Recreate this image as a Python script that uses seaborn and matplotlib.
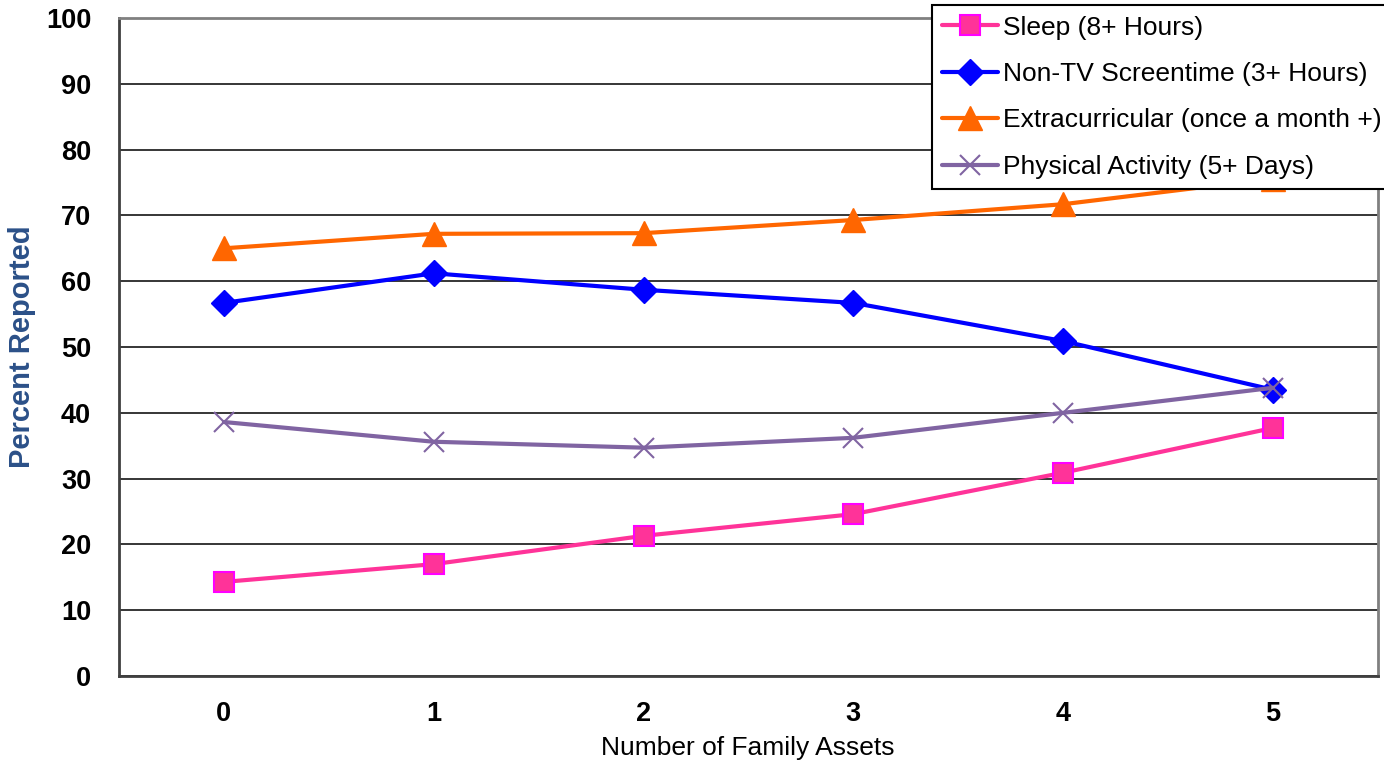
import pandas as pd
import seaborn as sns
import matplotlib.pyplot as plt

# values
assets = [0, 1, 2, 3, 4, 5]
sleep = [14.3, 17.0, 21.3, 24.6, 30.9, 37.7]
screentime = [56.7, 61.2, 58.7, 56.7, 50.9, 43.5]
extracurricular = [65.0, 67.2, 67.3, 69.3, 71.7, 75.6]
physical = [38.6, 35.6, 34.7, 36.2, 40.0, 43.8]

series_names = ["Sleep (8+ Hours)", "Non-TV Screentime (3+ Hours)",
                "Extracurricular (once a month +)", "Physical Activity (5+ Days)"]
series_values = [sleep, screentime, extracurricular, physical]

styles = {
    "Sleep (8+ Hours)": dict(color="#FF3399", marker="s", mfc="#FF3399", mec="#FF00FF", ms=14, mew=1.5),
    "Non-TV Screentime (3+ Hours)": dict(color="#0000FF", marker="D", mfc="#0000FF", mec="#0000FF", ms=13, mew=1),
    "Extracurricular (once a month +)": dict(color="#FF6600", marker="^", mfc="#FF6600", mec="#FF6600", ms=17, mew=1),
    "Physical Activity (5+ Days)": dict(color="#8064A2", marker="x", mfc="#8064A2", mec="#8064A2", ms=15, mew=1.5),
}

df = pd.concat([pd.DataFrame({"assets": assets, "pct": vals, "series": name})
                for name, vals in zip(series_names, series_values)])

sns.set_style("white")
plt.rcParams["font.family"] = ["Liberation Sans", "DejaVu Sans"]
plt.rcParams["text.color"] = "black"
plt.rcParams["axes.labelcolor"] = "black"
plt.rcParams["xtick.color"] = "black"
plt.rcParams["ytick.color"] = "black"

fig = plt.figure(figsize=(13.84, 7.64), dpi=100)
ax = fig.add_axes([119 / 1384, 1 - 676 / 764, (1378 - 119) / 1384, (676 - 18) / 764])

for name in series_names:
    sub = df[df["series"] == name]
    sns.lineplot(data=sub, x="assets", y="pct", ax=ax, label=name, lw=3, zorder=3,
                 **styles[name])

ax.set_xlim(-0.5, 5.5)
ax.set_ylim(0, 100)
ax.set_xticks(assets)
ax.set_yticks(range(0, 101, 10))
ax.yaxis.grid(True, color="black", lw=1.1)
ax.set_axisbelow(True)
ax.tick_params(axis="both", length=0, labelsize=19.5)
ax.tick_params(axis="y", pad=20)
ax.tick_params(axis="x", pad=18)
for lab in ax.get_xticklabels() + ax.get_yticklabels():
    lab.set_fontweight("bold")

ax.set_xlabel("Number of Family Assets", fontsize=19)
ax.set_ylabel("Percent Reported", fontsize=21, fontweight="bold", color="#2B5088")
ax.xaxis.set_label_coords((748 - 119) / (1378 - 119), -(748 - 676) / (676 - 18), transform=ax.transAxes)
ax.yaxis.set_label_coords(-(119 - 22) / (1378 - 119), (676 - 347) / (676 - 18), transform=ax.transAxes)
ax.xaxis.label.set_va("center")
ax.yaxis.label.set_va("center")

ax.spines["left"].set_color("#404040")
ax.spines["bottom"].set_color("#404040")
ax.spines["top"].set_color("#808080")
ax.spines["right"].set_color("#808080")
for s in ax.spines.values():
    s.set_linewidth(2)

leg = ax.legend(loc="upper right", bbox_to_anchor=(1392 / 1384, 1 - 5 / 764),
                bbox_transform=fig.transFigure, fontsize=19, frameon=True,
                fancybox=False, framealpha=1, borderaxespad=0, handlelength=2.1,
                handletextpad=0.2, labelspacing=0.85, borderpad=0.4)
leg.get_frame().set_edgecolor("black")
leg.get_frame().set_linewidth(1.5)
leg.set_zorder(10)

fig.savefig("out.png", dpi=100)
